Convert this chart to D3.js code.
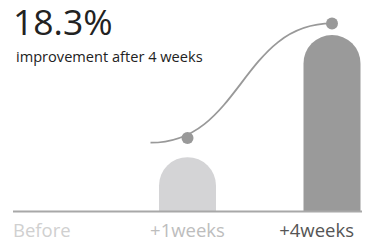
<!DOCTYPE html>
<html>
<head>
<meta charset="utf-8">
<script src="https://cdn.jsdelivr.net/npm/d3@7"></script>
<style>
  body { margin: 0; background: #fff; }
  svg { display: block; font-family: "Open Sans", sans-serif; }
</style>
</head>
<body>
<div id="chart"></div>
<script>
// data
const categories = ["Before", "+1weeks", "+4weeks"];
const barValues = [0, 5.6, 18.3];
const trendValues = [null, 7.6, 19.5];
const trendStart = 7.1; // where the trend curve starts, left of the first dot
const headline = "18.3%";
const subline = "improvement after 4 weeks";

const labelColors = ["#d0d0d0", "#bdbdbd", "#555555"];
const barColors = ["#d4d4d6", "#d4d4d6", "#9a9a9a"];

const width = 368, height = 241;
const margin = { top: 0, right: 6, bottom: 30, left: 13 };

const svg = d3.select("#chart").append("svg")
    .attr("width", width)
    .attr("height", height);

const x = d3.scalePoint()
    .domain(categories)
    .range([43, 332]);

const y = d3.scaleLinear()
    .domain([0, 18.3])
    .range([211, 35]);

const barW = 57;

// bars with rounded tops
svg.append("g")
    .selectAll("path")
    .data(categories.map((c, i) => ({ c, v: barValues[i], i })).filter(d => d.v > 0))
    .join("path")
    .attr("fill", d => barColors[d.i])
    .attr("d", d => {
        const x0 = x(d.c) - barW / 2, x1 = x(d.c) + barW / 2;
        const r = barW / 2;
        const top = y(d.v), base = y(0);
        return `M${x0},${base}V${top + r}A${r},${r} 0 0 1 ${x1},${top + r}V${base}Z`;
    });

// baseline
svg.append("line")
    .attr("x1", margin.left).attr("x2", width - margin.right)
    .attr("y1", y(0) + 0.5).attr("y2", y(0) + 0.5)
    .attr("stroke", "#a8a8a8")
    .attr("stroke-width", 2);

// trend curve
const link = d3.linkHorizontal();
svg.append("path")
    .attr("fill", "none")
    .attr("stroke", "#999")
    .attr("stroke-width", 1.8)
    .attr("d", link({
        source: [x(categories[1]) - 37, y(trendStart)],
        target: [x(categories[2]), y(trendValues[2])]
    }));

svg.append("g")
    .selectAll("circle")
    .data(categories.map((c, i) => ({ c, v: trendValues[i] })).filter(d => d.v != null))
    .join("circle")
    .attr("cx", d => x(d.c))
    .attr("cy", d => y(d.v))
    .attr("r", 6)
    .attr("fill", "#999");

// category labels
const anchors = ["start", "middle", "end"];
svg.append("g")
    .selectAll("text")
    .data(categories)
    .join("text")
    .attr("x", (d, i) => i === 0 ? margin.left : i === 2 ? 354 : x(d))
    .attr("y", 237)
    .attr("text-anchor", (d, i) => anchors[i])
    .attr("fill", (d, i) => labelColors[i])
    .attr("font-size", 18.5)
    .text(d => d);

// headline
svg.append("text")
    .attr("x", 13)
    .attr("y", 35)
    .attr("font-size", 35.5)
    .attr("fill", "#222")
    .text(headline);

svg.append("text")
    .attr("x", 16)
    .attr("y", 62)
    .attr("font-size", 14.6)
    .attr("fill", "#222")
    .text(subline);
</script>
</body>
</html>
